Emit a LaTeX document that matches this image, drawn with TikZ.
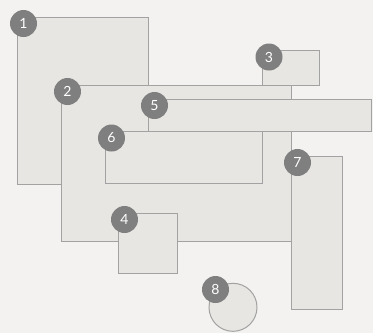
\documentclass[tikz,border=0pt]{standalone}
\usepackage{fontspec}
\setmainfont{Lato}
\definecolor{bgc}{HTML}{F3F2F0}
\definecolor{boxc}{HTML}{E7E6E3}
\definecolor{linec}{HTML}{A2A2A2}
\definecolor{badgec}{HTML}{7F7F7F}
\begin{document}
\begin{tikzpicture}[x=1pt,y=-1pt,
  blk/.style={draw=linec,fill=boxc,line width=1pt},
  badge/.style={circle,fill=badgec,text=white,minimum size=27pt,inner sep=0pt,font=\fontsize{14}{14}\selectfont}]
\fill[bgc] (0,0) rectangle (373,333);
\useasboundingbox (0,0) rectangle (373,333);
\draw[blk] (17,17) rectangle (148.5,184) coordinate (r1);
\node[badge] (b1) at (23.5,23.5) {1};
\draw[blk] (61,85) rectangle (291,241.5);
\node[badge] (b2) at (67.5,91.5) {2};
\draw[blk] (262.5,50.5) rectangle (319.5,85);
\node[badge] (b3) at (269,57) {3};
\draw[blk] (118,213) rectangle (177.5,273);
\node[badge] (b4) at (124.5,219.5) {4};
\draw[blk] (148,99) rectangle (371.5,131.5);
\node[badge] (b5) at (154.5,105.5) {5};
\draw[blk] (105,131.5) rectangle (262.5,183.5);
\node[badge] (b6) at (111.5,138) {6};
\draw[blk] (291,156) rectangle (342.5,309.5);
\node[badge] (b7) at (297.5,162.5) {7};
\draw[blk] (233,307.3) circle (24);
\node[badge] (b8) at (215.5,289.5) {8};
\end{tikzpicture}
\end{document}
